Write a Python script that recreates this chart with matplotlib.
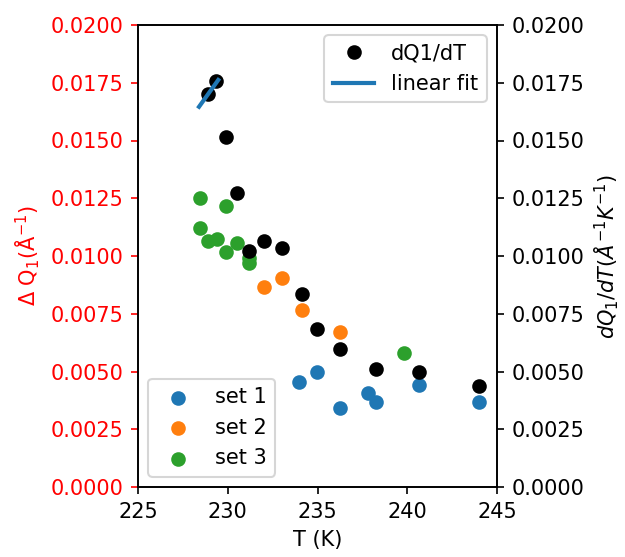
import numpy as np
import matplotlib
matplotlib.use('Agg')
import matplotlib.pyplot as plt

# dQ1/dT points (right axis)
T_d = [228.88, 229.36, 229.9, 230.5, 231.2, 232.0, 233.0, 234.15, 234.99, 236.25, 238.24, 240.67, 243.98]
dQ = [0.01701, 0.01758, 0.01517, 0.01274, 0.01022, 0.01065, 0.01033, 0.00835, 0.00684, 0.00596, 0.00512, 0.00498, 0.00437]

# linear fit to the first points
fit_T = [228.4, 229.47]
fit_y = [0.01646, 0.01762]

# delta Q1 sets (left axis)
T1 = [233.95, 234.99, 236.25, 237.81, 238.24, 240.67, 243.98]
Q1 = [0.00453, 0.00498, 0.00341, 0.00406, 0.00369, 0.00440, 0.00367]
T2 = [232.0, 233.0, 234.15, 236.25]
Q2 = [0.00867, 0.00906, 0.00766, 0.00670]
T3 = [228.45, 229.9, 228.45, 228.88, 229.38, 230.5, 229.9, 231.2, 231.2, 239.82]
Q3 = [0.01252, 0.01218, 0.01120, 0.01065, 0.01072, 0.01058, 0.01016, 0.00990, 0.00968, 0.00581]

fig = plt.figure(figsize=(626/150, 557/150), dpi=150)
ax1 = fig.add_axes([138/626, 1-487/557, (497-138)/626, (487-25)/557])

ax1.scatter(T1, Q1, label='set 1')
ax1.scatter(T2, Q2, label='set 2')
ax1.scatter(T3, Q3, label='set 3')
ax1.set_xlim(225, 245)
ax1.set_ylim(0, 0.02)
ax1.set_xticks([225, 230, 235, 240, 245])
ax1.set_yticks(np.arange(0, 0.02001, 0.0025))
ax1.set_xlabel('T (K)')
ax1.set_ylabel(r'$\Delta$ Q$_1$($\mathrm{\AA}^{-1}$)', color='red')
ax1.tick_params(axis='y', colors='red')
ax1.legend(loc='lower left')

ax2 = ax1.twinx()
ax2.plot(T_d, dQ, 'o', color='black', label='dQ1/dT')
ax2.plot(fit_T, fit_y, color='C0', lw=2, label='linear fit')
ax2.set_ylim(0, 0.02)
ax2.set_yticks(np.arange(0, 0.02001, 0.0025))
ax2.set_ylabel(r'$dQ_1/dT(\AA^{-1}K^{-1})$')
ax2.legend(loc='upper right')

fig.savefig('out.png', dpi=150)
